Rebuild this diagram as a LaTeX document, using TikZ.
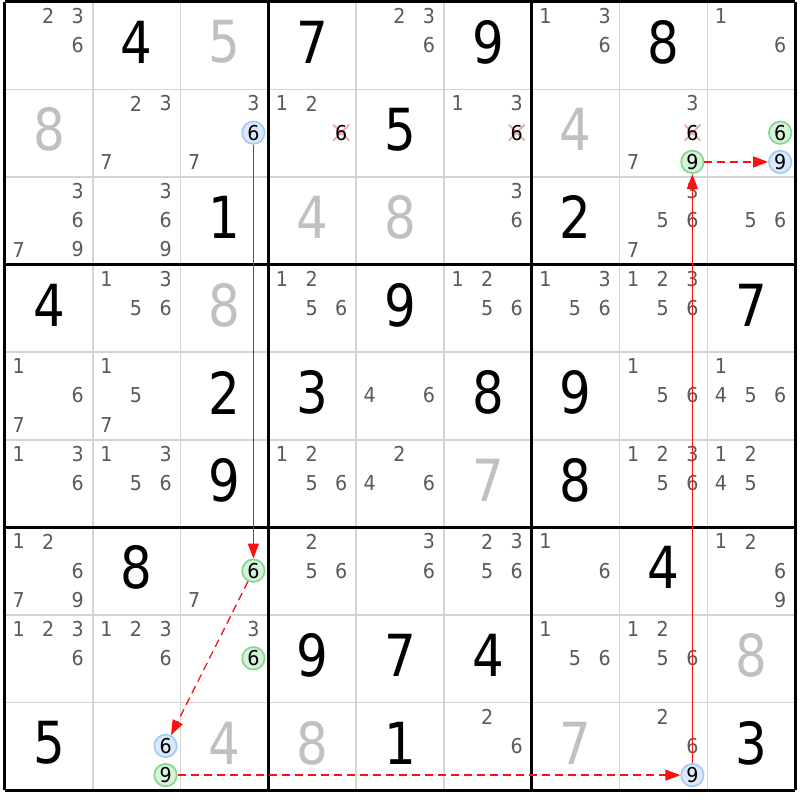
\documentclass[tikz,border=0pt]{standalone}
\usepackage{fontspec}
\usetikzlibrary{arrows.meta}
\newfontfamily\dvs{DejaVu Sans}[FakeStretch=0.86]
\newfontfamily\dvc{DejaVu Sans}[FakeStretch=0.93]
\definecolor{candgray}{HTML}{5A5A5A}
\definecolor{solvedgray}{HTML}{C0C0C0}
\definecolor{gridgray}{HTML}{D4D4D4}
\definecolor{greenline}{HTML}{84D792}
\definecolor{greenfill}{HTML}{D6F3DA}
\definecolor{blueline}{HTML}{A2CBF5}
\definecolor{bluefill}{HTML}{DAE9FB}
\definecolor{crosscol}{HTML}{F2A3AC}
\definecolor{linkred}{HTML}{FF1010}
\tikzset{
  cand/.style={font=\dvc\fontsize{20.5}{21}\selectfont, text=candgray, inner sep=0pt},
  hlgreen/.style={circle, draw=greenline, fill=greenfill, line width=1.7pt, minimum size=22.5pt, inner sep=0pt, text=black},
  hlblue/.style={circle, draw=blueline, fill=bluefill, line width=1.7pt, minimum size=22.5pt, inner sep=0pt, text=black},
  bigdigit/.style={font=\dvs\fontsize{58}{58}\selectfont, inner sep=0pt},
  given/.style={bigdigit, text=black},
  solved/.style={bigdigit, text=solvedgray},
  xmark/.style={draw=crosscol, line width=1.8pt},
  thin/.style={draw=gridgray, line width=1.6pt},
  thick/.style={draw=black, line width=3pt},
  link/.style={draw=linkred, line width=1.3pt, -{Triangle[length=15pt,width=11pt]}},
  weaklink/.style={link, dash pattern=on 8pt off 5pt}
}
\newcommand\cands[3]{%
  \foreach \d in {#3}{%
    \pgfmathtruncatemacro\cc{mod(\d-1,3)}%
    \pgfmathtruncatemacro\rr{div(\d-1,3)}%
    \node[cand] (k#1#2\d) at ({#2-1+0.155+0.337*\cc},{#1-1+0.16+0.334*\rr}) {\d};
  }}
\newcommand\hcand[4]{%
  \pgfmathtruncatemacro\cc{mod(#3-1,3)}%
  \pgfmathtruncatemacro\rr{div(#3-1,3)}%
  \node[cand, hl#4] (k#1#2#3) at ({#2-1+0.155+0.337*\cc},{#1-1+0.16+0.334*\rr}) {#3};}
\newcommand\xcand[3]{%
  \pgfmathtruncatemacro\cc{mod(#3-1,3)}%
  \pgfmathtruncatemacro\rr{div(#3-1,3)}%
  \coordinate (x#1#2#3) at ({#2-1+0.155+0.337*\cc},{#1-1+0.16+0.334*\rr});
  \draw[xmark] (x#1#2#3) ++(-8pt,-8pt) -- ++(16pt,16pt);
  \draw[xmark] (x#1#2#3) ++(-8pt,8pt) -- ++(16pt,-16pt);
  \node[cand, text=black] (k#1#2#3) at (x#1#2#3) {#3};}
\newcommand\gv[3]{\node[given] (g#1#2) at (#2-0.5,#1-0.54) {#3};}
\newcommand\sv[3]{\node[solved] (g#1#2) at (#2-0.5,#1-0.54) {#3};}
\begin{document}
\begin{tikzpicture}[x=87.8pt,y=-87.6pt]
\useasboundingbox (-0.05695,-0.02055) rectangle (9.0547,9.1119);
\fill[white] (-0.05695,-0.02055) rectangle (9.0547,9.1119);
% grid
\foreach \i in {1,2,4,5,7,8}{
  \draw[thin] (\i,0) -- (\i,9);
  \draw[thin] (0,\i) -- (9,\i);
}
\foreach \i in {0,3,6,9}{
  \draw[thick] (\i,0) -- (\i,9);
  \draw[thick] (0,\i) -- (9,\i);
}
% row 1
\cands{1}{1}{2,3,6} \gv{1}{2}{4} \sv{1}{3}{5} \gv{1}{4}{7} \cands{1}{5}{2,3,6}
\gv{1}{6}{9} \cands{1}{7}{1,3,6} \gv{1}{8}{8} \cands{1}{9}{1,6}
% row 2
\sv{2}{1}{8} \cands{2}{2}{2,3,7} \cands{2}{3}{3,7} \hcand{2}{3}{6}{blue}
\cands{2}{4}{1,2} \xcand{2}{4}{6} \gv{2}{5}{5} \cands{2}{6}{1,3} \xcand{2}{6}{6}
\sv{2}{7}{4} \cands{2}{8}{3,7} \xcand{2}{8}{6} \hcand{2}{8}{9}{green}
\hcand{2}{9}{6}{green} \hcand{2}{9}{9}{blue}
% row 3
\cands{3}{1}{3,6,7,9} \cands{3}{2}{3,6,9} \gv{3}{3}{1} \sv{3}{4}{4} \sv{3}{5}{8}
\cands{3}{6}{3,6} \gv{3}{7}{2} \cands{3}{8}{3,5,6,7} \cands{3}{9}{5,6}
% row 4
\gv{4}{1}{4} \cands{4}{2}{1,3,5,6} \sv{4}{3}{8} \cands{4}{4}{1,2,5,6} \gv{4}{5}{9}
\cands{4}{6}{1,2,5,6} \cands{4}{7}{1,3,5,6} \cands{4}{8}{1,2,3,5,6} \gv{4}{9}{7}
% row 5
\cands{5}{1}{1,6,7} \cands{5}{2}{1,5,7} \gv{5}{3}{2} \gv{5}{4}{3} \cands{5}{5}{4,6}
\gv{5}{6}{8} \gv{5}{7}{9} \cands{5}{8}{1,5,6} \cands{5}{9}{1,4,5,6}
% row 6
\cands{6}{1}{1,3,6} \cands{6}{2}{1,3,5,6} \gv{6}{3}{9} \cands{6}{4}{1,2,5,6}
\cands{6}{5}{2,4,6} \sv{6}{6}{7} \gv{6}{7}{8} \cands{6}{8}{1,2,3,5,6} \cands{6}{9}{1,2,4,5}
% row 7
\cands{7}{1}{1,2,6,7,9} \gv{7}{2}{8} \cands{7}{3}{7} \hcand{7}{3}{6}{green}
\cands{7}{4}{2,5,6} \cands{7}{5}{3,6} \cands{7}{6}{2,3,5,6} \cands{7}{7}{1,6}
\gv{7}{8}{4} \cands{7}{9}{1,2,6,9}
% row 8
\cands{8}{1}{1,2,3,6} \cands{8}{2}{1,2,3,6} \cands{8}{3}{3} \hcand{8}{3}{6}{green}
\gv{8}{4}{9} \gv{8}{5}{7} \gv{8}{6}{4} \cands{8}{7}{1,5,6} \cands{8}{8}{1,2,5,6} \sv{8}{9}{8}
% row 9
\gv{9}{1}{5} \hcand{9}{2}{6}{blue} \hcand{9}{2}{9}{green} \sv{9}{3}{4} \sv{9}{4}{8}
\gv{9}{5}{1} \cands{9}{6}{2,6} \sv{9}{7}{7} \cands{9}{8}{2,6} \hcand{9}{8}{9}{blue} \gv{9}{9}{3}
% links
\draw[link] (k236) -- (k736);
\draw[weaklink] (k736) -- (k926);
\draw[weaklink] (k929) -- (k989);
\draw[link] (k989) -- (k289);
\draw[weaklink] (k289) -- (k299);
\end{tikzpicture}
\end{document}
